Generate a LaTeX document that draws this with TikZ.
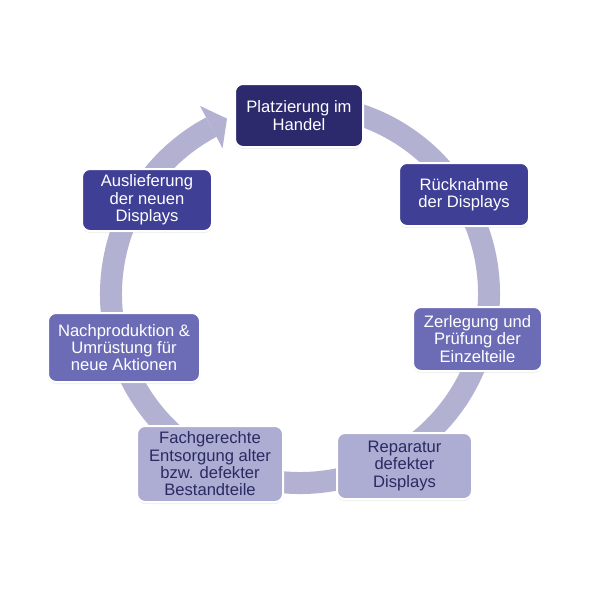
\documentclass[tikz,border=0pt]{standalone}
\usepackage{fontspec}
\setmainfont{Liberation Sans}
\usetikzlibrary{shadows,calc}
\definecolor{ringc}{HTML}{B2B1D2}
\definecolor{cA}{HTML}{2C2A6C}
\definecolor{cB}{HTML}{3E3F95}
\definecolor{cC}{HTML}{6C6CB6}
\definecolor{cD}{HTML}{ADACD3}
\definecolor{txtdark}{HTML}{2A2A62}
\tikzset{
  stepbox/.style={rectangle, rounded corners=8pt, draw=white, line width=2pt,
    align=center, inner sep=2pt, font=\fontsize{16.6}{17.3}\selectfont,
    drop shadow={opacity=0.12, shadow xshift=0pt, shadow yshift=-2pt}},
  light/.style={stepbox, text=white},
  dark/.style={stepbox, text=txtdark},
}
\begin{document}
\begin{tikzpicture}[x=1pt,y=-1pt]
\useasboundingbox[fill=white] (0,0) rectangle (600,600);
\coordinate (c) at (300,294);
% ring
\draw[ringc, line width=22pt] (c) ++(-80:189) arc[start angle=-80, end angle=242, radius=189];
\fill[ringc] ($(c)+(242:213)$) -- ($(c)+(247.4:190)$) -- ($(c)+(242:165)$) -- cycle;
% boxes
\node[light, fill=cA, minimum width=128pt, minimum height=63pt] (n1) at (299,115.5) {Platzierung im\\Handel};
\node[light, fill=cB, minimum width=130pt, minimum height=63pt] (n2) at (464,194.5) {Rücknahme\\der Displays};
\node[light, fill=cC, minimum width=129pt, minimum height=64pt] (n3) at (477.5,339) {Zerlegung und\\Prüfung der\\Einzelteile};
\node[dark, fill=cD, minimum width=135pt, minimum height=66pt] (n4) at (404.5,466) {Reparatur\\defekter\\Displays};
\node[dark, fill=cD, minimum width=146pt, minimum height=76pt] (n5) at (210,464) {Fachgerechte\\Entsorgung alter\\bzw. defekter\\Bestandteile};
\node[light, fill=cC, minimum width=152pt, minimum height=69pt] (n6) at (124,347.5) {Nachproduktion \&\\Umrüstung für\\neue Aktionen};
\node[light, fill=cB, minimum width=130pt, minimum height=62pt] (n7) at (147,200) {Auslieferung\\der neuen\\Displays};
\end{tikzpicture}
\end{document}
